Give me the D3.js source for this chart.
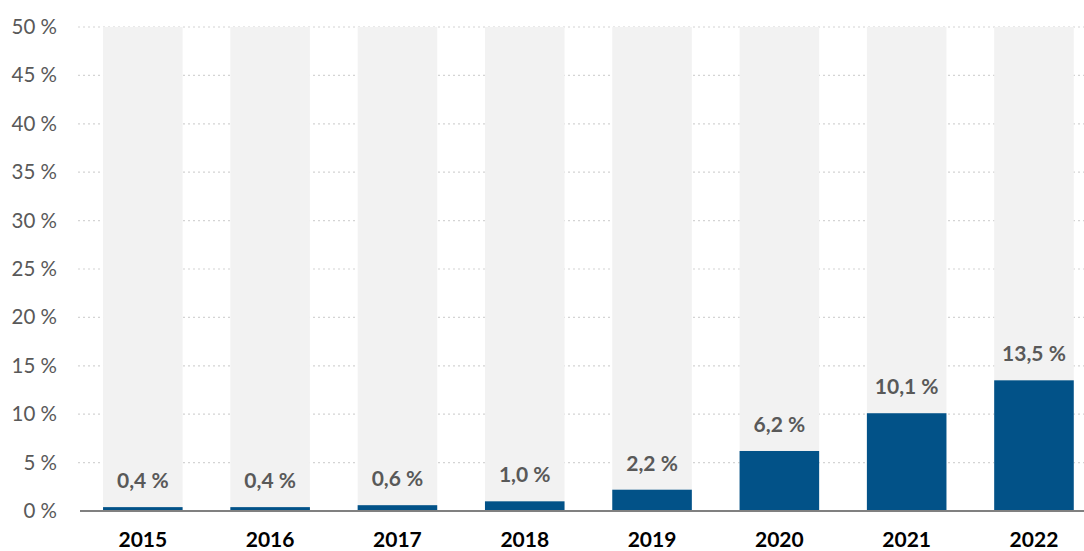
<!DOCTYPE html>
<html>
<head>
<meta charset="utf-8">
<script src="https://cdn.jsdelivr.net/npm/d3@7"></script>
<style>
  body { margin: 0; background: #fff; }
  svg { display: block; font-family: Lato, 'Open Sans', sans-serif; }
</style>
</head>
<body>
<svg id="chart" width="1084" height="551"></svg>
<script>
const years = ['2015', '2016', '2017', '2018', '2019', '2020', '2021', '2022']
const shares = [0.4, 0.4, 0.6, 1.0, 2.2, 6.2, 10.1, 13.5]
const yTicks = [0, 5, 10, 15, 20, 25, 30, 35, 40, 45, 50]

window.addEventListener('load', makeChart)
function makeChart() {
  const svg = d3.select('#chart')
  const fmt = (v) => d3.format('.1f')(v).replace('.', ',') + ' %'

  const scX = d3.scaleBand().domain(years).range([55.3, 1121.5]).padding(0.375)
  const scY = d3.scaleLinear().domain([0, 50]).range([511, 27])

  // dotted gridlines
  svg
    .selectAll('line.grid')
    .data(yTicks.slice(1))
    .enter()
    .append('line')
    .attr('x1', 78)
    .attr('x2', 1084)
    .attr('y1', (d) => scY(d))
    .attr('y2', (d) => scY(d))
    .attr('stroke', '#d4d4d4')
    .attr('stroke-width', 1.2)
    .attr('stroke-dasharray', '2,3')

  // grey background columns
  svg
    .selectAll('rect.bg')
    .data(years)
    .enter()
    .append('rect')
    .attr('x', (d) => scX(d))
    .attr('y', scY(50))
    .attr('width', scX.bandwidth())
    .attr('height', scY(0) - scY(50))
    .attr('fill', '#f2f2f2')

  // value bars
  svg
    .selectAll('rect.bar')
    .data(shares)
    .enter()
    .append('rect')
    .attr('x', (d, i) => scX(years[i]))
    .attr('y', (d) => scY(d))
    .attr('width', scX.bandwidth())
    .attr('height', (d) => scY(0) - scY(d))
    .attr('fill', '#025288')

  // value labels
  svg
    .selectAll('text.val')
    .data(shares)
    .enter()
    .append('text')
    .attr('x', (d, i) => scX(years[i]) + scX.bandwidth() / 2)
    .attr('y', (d) => scY(d) - 19)
    .attr('text-anchor', 'middle')
    .attr('font-size', 21)
    .attr('font-weight', 'bold')
    .attr('fill', '#595959')
    .text(fmt)

  // baseline
  svg
    .append('line')
    .attr('x1', 80)
    .attr('x2', 1084)
    .attr('y1', scY(0))
    .attr('y2', scY(0))
    .attr('stroke', '#808080')
    .attr('stroke-width', 2)

  // y labels
  svg
    .selectAll('text.ytick')
    .data(yTicks)
    .enter()
    .append('text')
    .attr('x', 57)
    .attr('y', (d) => scY(d) + 7)
    .attr('text-anchor', 'end')
    .attr('font-size', 20.5)
    .attr('fill', '#595959')
    .text((d) => d + ' %')

  // x labels
  svg
    .selectAll('text.xtick')
    .data(years)
    .enter()
    .append('text')
    .attr('x', (d) => scX(d) + scX.bandwidth() / 2)
    .attr('y', 547)
    .attr('text-anchor', 'middle')
    .attr('font-size', 21)
    .attr('font-weight', 'bold')
    .attr('fill', '#000')
    .text((d) => d)
}
</script>
</body>
</html>
